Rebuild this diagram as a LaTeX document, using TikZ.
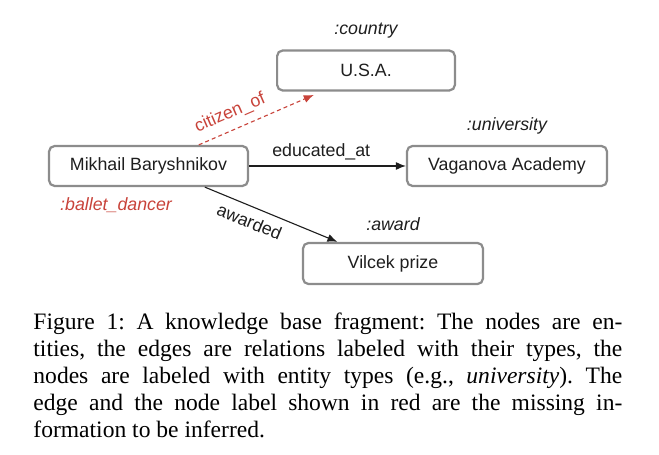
\documentclass[tikz,border=0pt]{standalone}
\usepackage{fontspec}
\setmainfont{Liberation Serif}
\setsansfont{Liberation Sans}
\usetikzlibrary{arrows.meta,positioning,calc}
\definecolor{kbRed}{HTML}{C8433A}
\definecolor{kbGray}{HTML}{8C8C8C}
\definecolor{kbInk}{HTML}{1E1E1E}

\begin{document}
\begin{tikzpicture}[x=0.45pt,y=-0.45pt,
    font=\sffamily\fontsize{8}{9.6}\selectfont,
    entity/.style={draw=kbGray,line width=1pt,rounded corners=2.5pt,fill=white,
                   minimum height=18pt,inner sep=3pt,text=kbInk},
    etype/.style={font=\sffamily\itshape\fontsize{8}{9.6}\selectfont,text=kbInk},
    rel/.style={-{Latex[length=4.5pt,width=3.6pt]},line width=0.5pt,draw=kbInk},
    rellbl/.style={text=kbInk,inner sep=2.5pt}]
  \useasboundingbox (0,0) rectangle (659,455);
  % entities
  \node[entity,minimum width=89.5pt] (mb)  at (148.5,166) {Mikhail Baryshnikov};
  \node[entity,minimum width=80pt]   (usa) at (366,70.5)  {U.S.A.};
  \node[entity,minimum width=90pt]   (vag) at (507,166)   {Vaganova Academy};
  \node[entity,minimum width=81pt,minimum height=18.5pt] (vil) at (393,263.5) {Vilcek prize};
  % entity types
  \node[etype,above=1.5pt of usa] (tcountry) {:country};
  \node[etype,above=1.5pt of vag] (tuni)     {:university};
  \node[etype,above=1.5pt of vil] (taward)   {:award};
  \node[etype,text=kbRed,below right=1pt and 2pt of mb.south west] (tdancer) {:ballet\_dancer};
  % relations
  \draw[rel] (mb.east) -- node[rellbl,above,pos=.46] (leducated) {educated\_at} (vag.west);
  \draw[rel] ($(mb.south)!.56!(mb.south east)$) --
      node[rellbl,below,sloped,pos=.38,inner sep=3.5pt] (lawarded) {awarded}
      ($(vil.north west)!.39!(vil.north)$);
  \draw[rel,draw=kbRed,dash pattern=on 1.8pt off 1.4pt]
      ($(mb.north)!.5!(mb.north east)$) --
      node[rellbl,text=kbRed,above,sloped,pos=.33,inner sep=3.5pt] (lcitizen) {citizen\_of}
      ([yshift=-1.5pt]$(usa.south west)!.42!(usa.south)$);
  % caption
  \node[font=\rmfamily\fontsize{10.6}{12.15}\selectfont,text width=265pt,align=justify,
        inner sep=0pt,anchor=north west] (caption) at (33,312) {\frenchspacing
    Figure 1: A knowledge base fragment: The nodes are en-\linebreak
    tities, the edges are relations labeled with their types, the\linebreak
    nodes are labeled with entity types (e.g., \textit{university}). The\linebreak
    edge and the node label shown in red are the missing in-\linebreak
    formation to be inferred.};
\end{tikzpicture}
\end{document}
